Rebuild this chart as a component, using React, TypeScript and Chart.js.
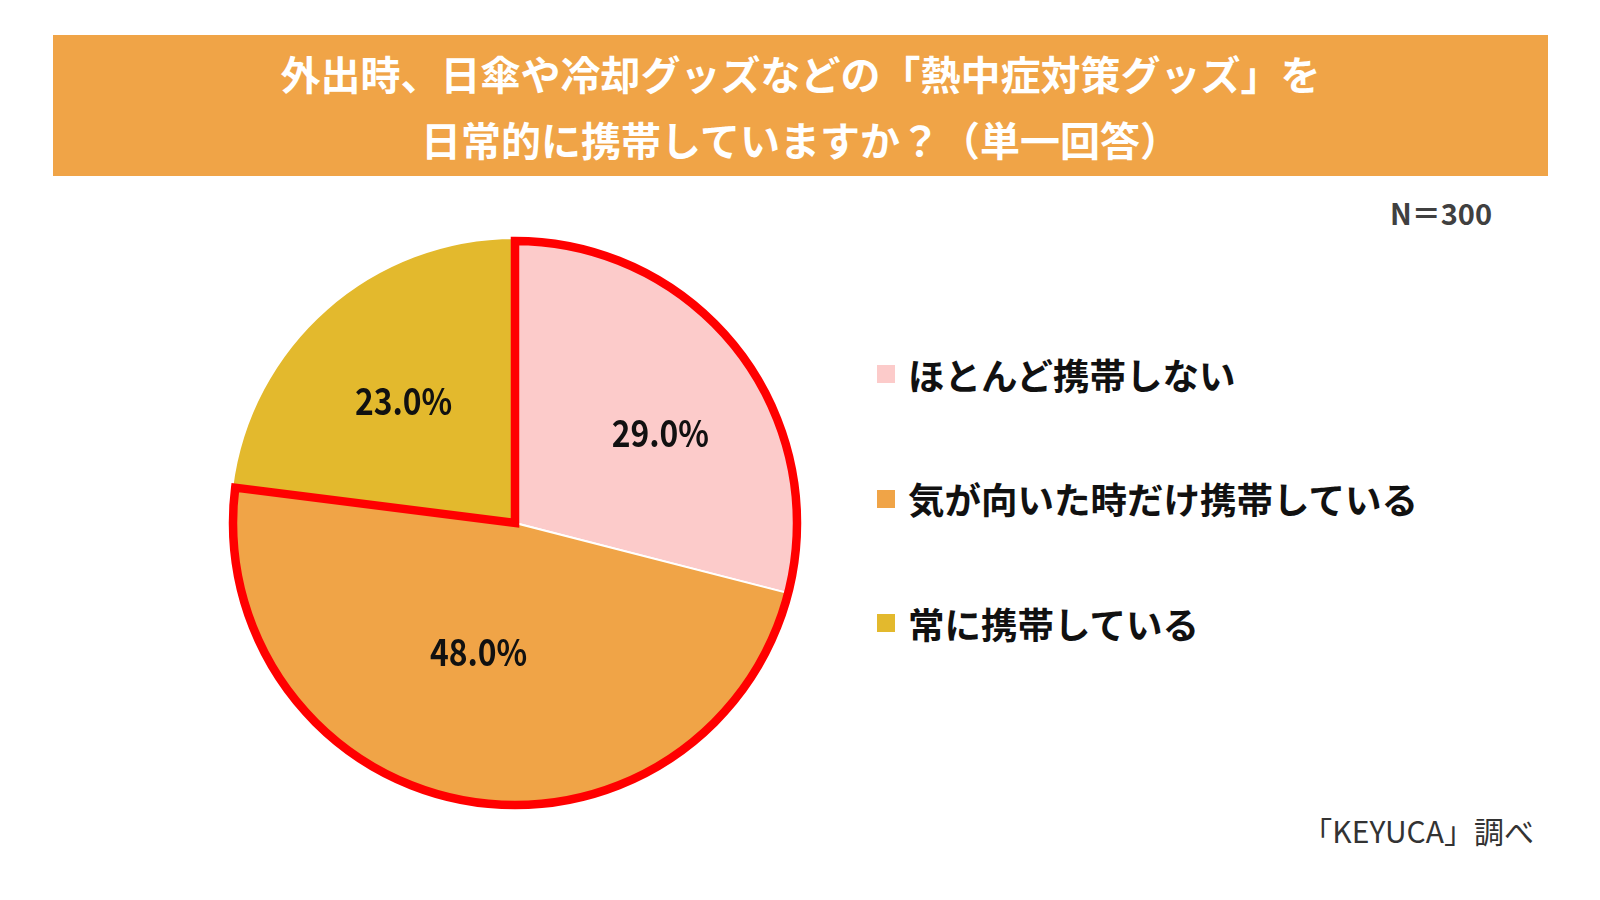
import React, { useEffect, useRef } from "react";
import { Chart, registerables, Plugin } from "chart.js";

Chart.register(...registerables);

const titleLines = [
  "外出時、日傘や冷却グッズなどの「熱中症対策グッズ」を",
  "日常的に携帯していますか？（単一回答）",
];
const sampleNote = "N＝300";
const sourceNote = "「KEYUCA」調べ";

const answerLabels = ["ほとんど携帯しない", "気が向いた時だけ携帯している", "常に携帯している"];
const answerShares = [29.0, 48.0, 23.0];
const sliceColors = ["#FCCBCA", "#F0A447", "#E3B92D"];
// slices that get the red outline
const highlighted = [0, 1];

const JP = '"Noto Sans CJK JP", "Noto Sans", sans-serif';

// label placement: fraction of radius + angle nudge (deg) from mid angle
const labelPlacement = [
  { f: 0.6, da: 6 },
  { f: 0.47, da: 5 },
  { f: 0.58, da: -1 },
];

const outlinePlugin: Plugin<"pie"> = {
  id: "outlineAndLabels",
  afterDatasetsDraw(chart) {
    const ctx = chart.ctx;
    const arcs = chart.getDatasetMeta(0).data as any[];
    if (!arcs.length) return;

    // red outline round the highlighted slices
    const first = arcs[highlighted[0]];
    const last = arcs[highlighted[highlighted.length - 1]];
    const { x, y, outerRadius } = first.getProps(["x", "y", "outerRadius"], true);
    const a0 = first.getProps(["startAngle"], true).startAngle;
    const a1 = last.getProps(["endAngle"], true).endAngle;
    ctx.save();
    ctx.beginPath();
    ctx.moveTo(x, y);
    ctx.arc(x, y, outerRadius - 3, a0, a1);
    ctx.closePath();
    ctx.strokeStyle = "#FF0000";
    ctx.lineWidth = 8.5;
    ctx.lineJoin = "miter";
    ctx.stroke();
    ctx.restore();

    // percentage labels
    arcs.forEach((arc, i) => {
      const p = arc.getProps(["x", "y", "startAngle", "endAngle", "outerRadius"], true);
      const place = labelPlacement[i];
      const mid = (p.startAngle + p.endAngle) / 2 + (place.da * Math.PI) / 180;
      const lx = p.x + Math.cos(mid) * p.outerRadius * place.f;
      const ly = p.y + Math.sin(mid) * p.outerRadius * place.f;
      ctx.save();
      ctx.translate(lx, ly);
      ctx.scale(0.86, 1);
      ctx.font = `bold 37px ${JP}`;
      ctx.fillStyle = "#111111";
      ctx.textAlign = "center";
      ctx.textBaseline = "middle";
      ctx.fillText(answerShares[i].toFixed(1) + "%", 0, 0);
      ctx.restore();
    });
  },
};

const PieChart: React.FC = () => {
  const canvasRef = useRef<HTMLCanvasElement>(null);
  const chartInstance = useRef<Chart | null>(null);

  useEffect(() => {
    if (!canvasRef.current) return;
    const ctx = canvasRef.current.getContext("2d");
    if (!ctx) return;

    chartInstance.current = new Chart(ctx, {
      type: "pie",
      data: {
        labels: answerLabels,
        datasets: [
          {
            data: answerShares,
            backgroundColor: sliceColors,
            borderColor: "#FFFFFF",
            borderWidth: 2,
          },
        ],
      },
      options: {
        responsive: false,
        animation: false,
        layout: { padding: 19 },
        plugins: {
          legend: { display: false },
          tooltip: { enabled: false },
        },
      },
      plugins: [outlinePlugin],
    });

    return () => {
      if (chartInstance.current) {
        chartInstance.current.destroy();
        chartInstance.current = null;
      }
    };
  }, []);

  return <canvas ref={canvasRef} width={610} height={610} style={{ width: 610, height: 610 }} />;
};

export default function App() {
  return (
    <div
      style={{
        position: "fixed",
        left: 0,
        top: 0,
        width: 1600,
        height: 900,
        background: "#FFFFFF",
        fontFamily: JP,
        overflow: "hidden",
      }}
    >
      {/* title banner */}
      <div
        style={{
          position: "absolute",
          left: 53,
          top: 35,
          width: 1495,
          height: 141,
          background: "#F0A447",
          color: "#FFFFFF",
          fontWeight: 700,
          fontSize: 40,
          textAlign: "center",
          display: "flex",
          flexDirection: "column",
          justifyContent: "center",
          lineHeight: "66px",
        }}
      >
        {titleLines.map((t) => (
          <div key={t}>{t}</div>
        ))}
      </div>

      <div
        style={{
          position: "absolute",
          right: 1600 - 1492,
          top: 194,
          fontSize: 29,
          fontWeight: 700,
          color: "#404040",
          lineHeight: "36px",
        }}
      >
        {sampleNote}
      </div>

      <div style={{ position: "absolute", left: 210, top: 218 }}>
        <PieChart />
      </div>

      {/* legend */}
      {answerLabels.map((label, i) => (
        <div
          key={label}
          style={{
            position: "absolute",
            left: 877,
            top: 374 + i * 124.5 - 25,
            height: 50,
            display: "flex",
            alignItems: "center",
            fontSize: 36.5,
            fontWeight: 700,
            color: "#111111",
            whiteSpace: "nowrap",
          }}
        >
          <span
            style={{
              display: "inline-block",
              width: 18,
              height: 18,
              background: sliceColors[i],
              marginRight: 13,
            }}
          />
          {label}
        </div>
      ))}

      <div
        style={{
          position: "absolute",
          right: 1600 - 1534,
          top: 812,
          fontSize: 30,
          color: "#333333",
          lineHeight: "36px",
        }}
      >
        {sourceNote}
      </div>
    </div>
  );
}
